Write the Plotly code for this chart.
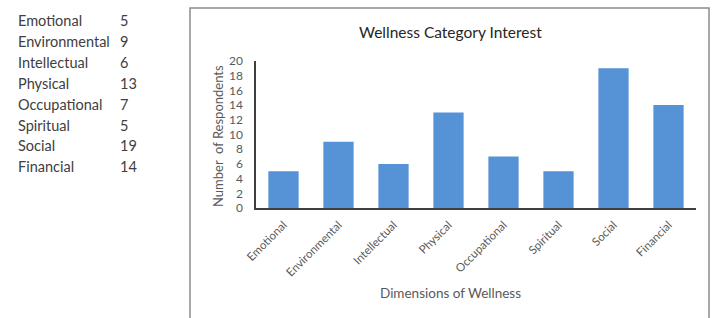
import plotly.graph_objects as go

categories = ["Emotional", "Environmental", "Intellectual", "Physical",
              "Occupational", "Spiritual", "Social", "Financial"]
values = [5, 9, 6, 13, 7, 5, 19, 14]
y_ticks = [0, 2, 4, 6, 8, 10, 12, 14, 16, 18, 20]

W, H = 712, 318
L, R, T, B = 256, 16, 61, 110
pw, ph = W - L - R, H - T - B

def px(x):
    return (x - L) / pw

def py(y):
    return (H - B - y) / ph

FONT = "Lato"
TXT = "#595959"

fig = go.Figure(go.Bar(x=categories, y=values, marker_color="#5592D6",
                       marker_line_width=0, width=0.55))

ann = []
for i, (c, v) in enumerate(zip(categories, values)):
    yy = py(21 + i * 20.8)
    ann.append(dict(x=px(16), y=yy, xref="paper", yref="paper", text=c,
                    showarrow=False, xanchor="left", yanchor="middle",
                    font=dict(family=FONT, size=14.5, color="#404040")))
    ann.append(dict(x=px(118), y=yy, xref="paper", yref="paper", text=str(v),
                    showarrow=False, xanchor="left", yanchor="middle",
                    font=dict(family=FONT, size=14.5, color="#404040")))

ann.append(dict(x=px(450), y=py(32), xref="paper", yref="paper",
                text="Wellness Category Interest", showarrow=False,
                xanchor="center", yanchor="middle",
                font=dict(family=FONT, size=15.5, color="#262626")))
ann.append(dict(x=px(450), y=py(293), xref="paper", yref="paper",
                text="Dimensions of Wellness", showarrow=False,
                xanchor="center", yanchor="middle",
                font=dict(family=FONT, size=13.5, color=TXT)))
ann.append(dict(x=px(218), y=py(136), xref="paper", yref="paper",
                text="Number  of Respondents", showarrow=False, textangle=-90,
                xanchor="center", yanchor="middle",
                font=dict(family=FONT, size=13, color=TXT)))

shapes = [dict(type="rect", xref="paper", yref="paper",
               x0=px(190), x1=px(709), y0=py(8), y1=py(340),
               line=dict(color="#8C8C8C", width=1.5), fillcolor="rgba(0,0,0,0)")]

fig.update_layout(
    width=W, height=H,
    margin=dict(l=L, r=R, t=T, b=B, pad=0),
    paper_bgcolor="white", plot_bgcolor="white",
    showlegend=False,
    annotations=ann, shapes=shapes,
    font=dict(family=FONT, color=TXT),
    xaxis=dict(showline=True, linecolor="#404040", linewidth=1.5,
               tickangle=-45, tickfont=dict(family=FONT, size=11.5, color=TXT),
               ticks="", showgrid=False, automargin=False,
               ticklabelstandoff=4),
    yaxis=dict(range=[0, 20], tickvals=y_ticks, showline=True,
               linecolor="#404040", linewidth=1.5, showgrid=False,
               zeroline=False, ticks="", ticklen=0, automargin=False,
               ticklabelstandoff=9,
               tickfont=dict(family=FONT, size=12, color=TXT)),
)

fig.write_html("out.html", config={"displayModeBar": False},
               post_script="document.body.style.margin='0';document.body.style.overflow='hidden';")
